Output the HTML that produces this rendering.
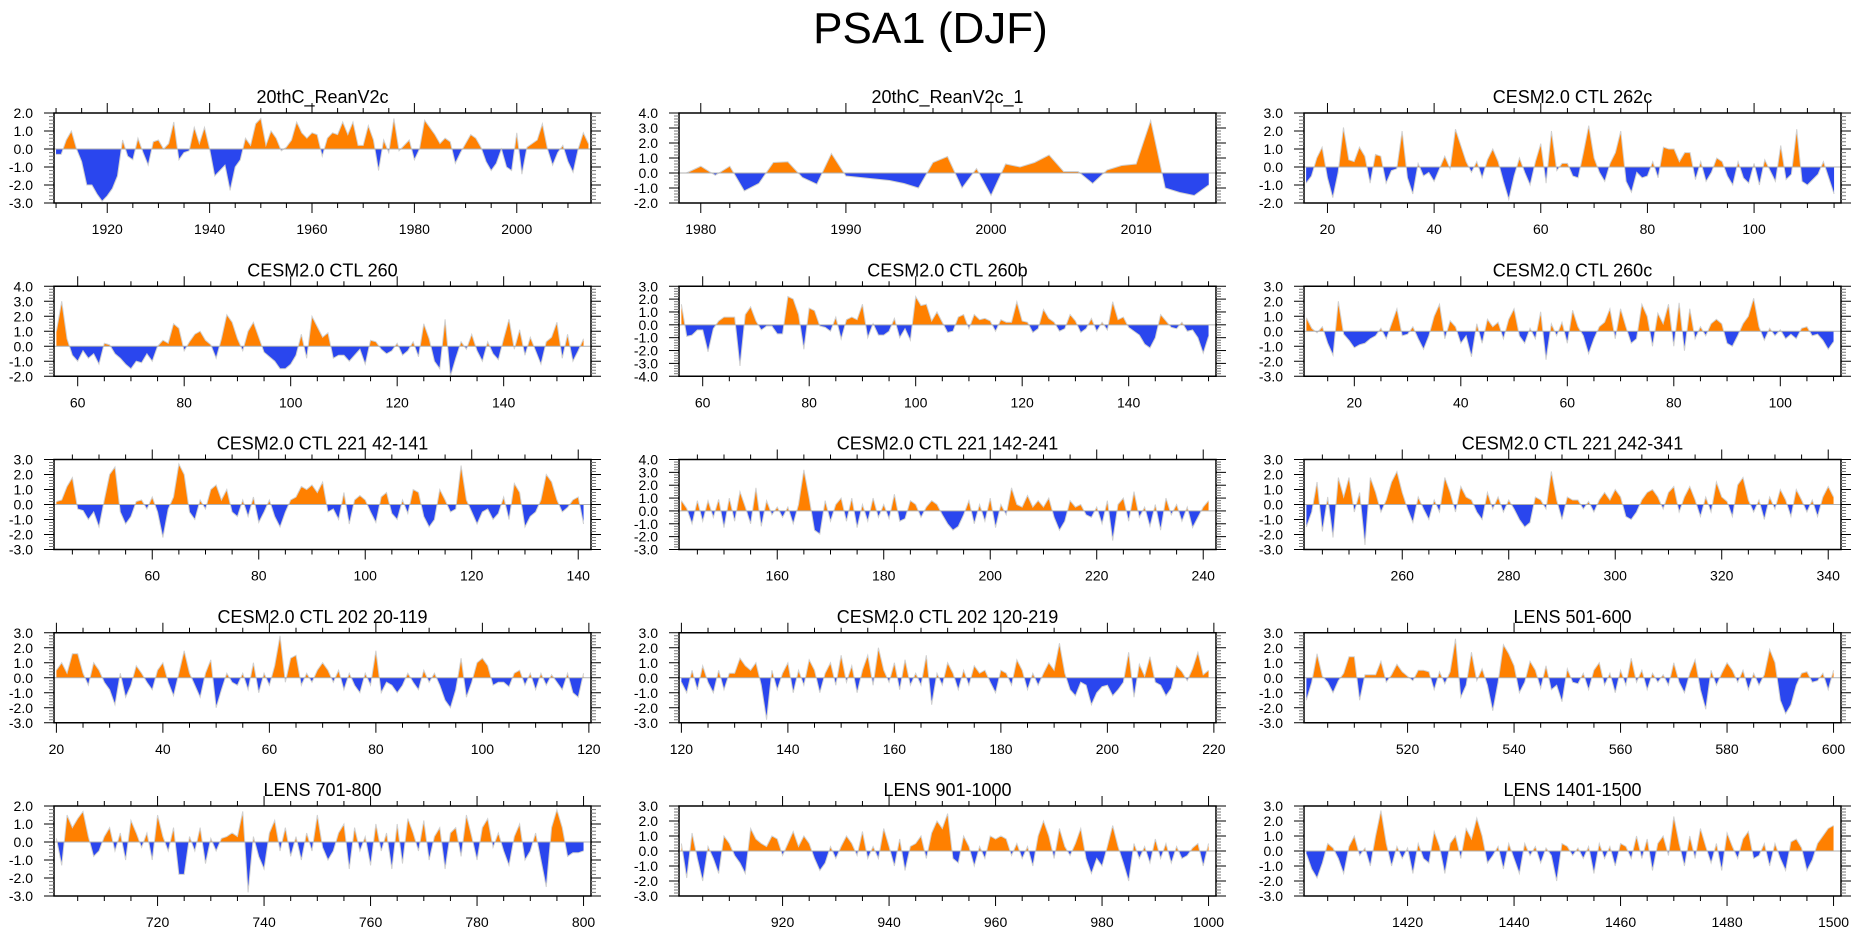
<!DOCTYPE html>
<html><head><meta charset="utf-8">
<style>
html,body{margin:0;padding:0;background:#fff;}
svg{display:block;font-family:"Liberation Sans",sans-serif;}
</style></head>
<body>
<svg id="fig" width="1861" height="936" viewBox="0 0 1861 936" xmlns="http://www.w3.org/2000/svg">
<text x="930.5" y="43" font-size="44" text-anchor="middle">PSA1 (DJF)</text>
</svg>
<script>
const titles = ["20thC_ReanV2c","20thC_ReanV2c_1","CESM2.0 CTL 262c","CESM2.0 CTL 260","CESM2.0 CTL 260b","CESM2.0 CTL 260c","CESM2.0 CTL 221 42-141","CESM2.0 CTL 221 142-241","CESM2.0 CTL 221 242-341","CESM2.0 CTL 202 20-119","CESM2.0 CTL 202 120-219","LENS 501-600","LENS 701-800","LENS 901-1000","LENS 1401-1500"];
const startYears = [1910,1979,16,56,56,11,42,142,242,20,120,501,701,901,1401];
const yMins = [-3,-2,-2,-2,-4,-3,-3,-3,-3,-3,-3,-3,-3,-3,-3];
const yMaxs = [2,4,3,4,3,3,3,4,3,3,3,3,2,3,3];
const xMins = [1909.6,1978.5,15.6,55.55,55.55,10.55,41.55,141.55,241.55,19.55,119.55,500.55,700.55,900.55,1400.55];
const xMaxs = [2014.5,2015.5,116.3,156.4,156.4,111.4,142.4,242.4,342.4,120.4,220.4,601.4,801.4,1001.4,1501.4];
const majorSteps = [20,10,20,20,20,20,20,20,20,20,20,20,20,20,20];
const minorSteps = [5,2,5,5,5,5,5,5,5,5,5,5,5,5,5];

const vals1 = [-0.3,-0.3,0.5,1.0,0.0,-0.7,-2.0,-2.0,-2.5,-2.9,-2.6,-2.2,-1.5,0.5,-0.4,-0.6,0.6,-0.2,-0.9,0.4,0.5,0.0,0.3,1.5,-0.6,-0.2,-0.1,1.2,0.3,1.2,0.0,-1.5,-1.2,-0.9,-2.3,-1.0,-0.6,0.6,0.2,1.4,1.7,0.2,1.0,0.6,-0.1,0.1,0.5,1.5,0.9,0.6,0.9,0.8,-0.4,0.6,0.9,0.8,1.5,0.8,1.5,0.2,0.2,1.3,0.5,-1.2,0.5,-0.2,1.7,-0.1,0.2,0.5,-0.6,0.0,1.6,1.2,0.8,0.3,0.6,0.4,-0.8,-0.2,0.3,0.8,0.6,0.1,-0.7,-1.2,-0.8,0.0,-1.0,-1.2,0.9,-1.4,0.1,0.3,0.5,1.4,0.0,-0.9,-0.2,0.2,-0.7,-1.3,0.0,0.9,0.3];
const vals2 = [0.0,0.45,-0.15,0.45,-1.2,-0.7,0.7,0.75,-0.3,-0.75,1.3,-0.2,-0.3,-0.4,-0.5,-0.7,-1.0,0.7,1.1,-1.0,0.3,-1.5,0.6,0.4,0.7,1.2,0.1,0.1,-0.7,0.2,0.5,0.6,3.5,-1.0,-1.3,-1.5,-0.8];
const vals3 = [-0.9,-0.5,0.5,1.1,-0.6,-1.7,-0.3,2.2,0.4,0.3,1.1,0.6,-0.9,0.7,0.6,-0.9,-0.2,-0.1,2.0,-0.6,-1.5,0.2,-0.5,-0.3,-0.8,-0.1,0.6,-0.1,2.1,1.2,0.3,-0.3,0.3,-0.6,0.4,1.0,0.3,-0.8,-1.8,-0.5,0.5,-0.3,-1.0,0.3,1.3,-0.9,2.0,-0.2,0.2,0.2,-0.5,-0.6,0.8,2.3,0.5,-0.3,-0.8,0.2,0.8,2.0,-0.8,-1.4,-0.3,-0.6,-0.5,0.3,-0.6,1.1,1.0,1.0,0.3,0.8,0.8,-0.7,0.3,-0.8,-0.3,0.5,0.3,-0.5,-1.0,0.3,-0.6,-0.9,0.2,-1.0,0.4,-0.2,-0.8,1.2,-0.7,-0.4,2.1,-0.8,-1.0,-0.7,-0.4,0.3,-0.6,-1.5];
const vals4 = [1.0,3.0,0.5,-0.6,-1.0,-0.3,-0.8,-0.5,-1.2,0.2,0.1,-0.5,-0.8,-1.2,-1.5,-1.0,-1.1,-0.5,-1.0,0.0,0.4,0.2,1.5,1.2,-0.3,0.3,0.8,1.0,0.4,0.1,-0.8,0.5,2.1,1.6,0.5,-0.3,1.0,1.6,0.6,-0.4,-0.7,-1.0,-1.5,-1.5,-1.2,-0.6,0.8,-0.8,2.0,1.3,0.6,0.9,-0.8,-0.6,-0.6,-1.0,-0.6,-0.2,-1.2,0.4,0.3,-0.2,-0.5,-0.3,0.2,-0.6,-0.3,0.3,-0.7,1.5,0.5,-1.0,-1.5,1.8,-2.0,-0.8,0.3,-0.2,0.8,-0.3,-1.0,0.3,-0.5,-0.9,0.5,1.8,-0.2,1.1,-0.6,0.6,-0.3,-1.2,0.3,0.6,1.6,-0.8,0.8,-1.0,-0.3,0.5];
const vals5 = [1.6,-0.9,-0.8,-0.4,-0.4,-2.1,-0.3,0.3,0.6,0.6,0.6,-3.2,0.8,1.4,0.3,-0.4,-0.1,-0.1,-0.7,-0.7,2.2,2.0,0.8,-1.9,1.3,1.1,-0.1,-0.2,-0.5,0.6,-1.1,0.4,0.6,0.4,1.6,-1.0,0.1,-0.8,-0.8,-0.5,0.5,-1.0,-0.3,-1.2,2.2,1.5,1.6,0.3,1.0,0.2,-0.6,-0.5,0.6,0.8,-0.3,0.8,0.4,0.5,0.3,-0.5,0.4,0.2,0.2,1.8,0.3,0.2,-0.6,-0.3,1.2,0.5,0.2,-0.5,-0.3,0.8,0.3,-0.6,-0.3,0.5,-0.5,0.2,-0.4,1.8,0.4,0.6,-0.2,-0.5,-0.8,-1.5,-1.8,-1.0,0.8,0.3,-0.2,-0.3,0.2,-0.5,-0.4,-1.0,-2.2,-0.9];
const vals6 = [0.9,0.2,-0.1,0.3,-0.8,-1.6,2.0,-0.2,-0.6,-1.1,-0.9,-0.8,-0.5,-0.3,0.2,-0.5,0.5,1.5,-0.3,-0.2,0.3,-0.5,-1.2,-0.3,1.0,1.8,-0.5,0.7,0.3,-0.8,-0.3,-1.7,0.5,-0.8,0.8,0.3,0.6,-0.5,0.8,1.5,-0.3,-0.8,0.2,-0.5,1.3,-1.9,0.5,-0.3,0.6,-0.8,1.4,0.3,-0.3,-1.5,-0.5,0.3,0.6,1.5,-0.5,1.5,0.3,-0.8,-0.5,1.8,1.0,-1.0,1.2,0.5,1.8,-1.0,1.9,-1.3,1.5,-0.5,0.3,-0.3,0.5,0.8,0.5,-0.8,-1.0,-0.3,0.5,1.0,2.2,0.3,-0.6,0.2,-0.3,0.1,-0.5,-0.2,-0.5,0.2,0.3,-0.3,-0.2,-0.6,-1.2,-0.7];
const vals7 = [0.2,0.3,1.2,1.8,-0.3,-0.4,-1.0,-0.5,-1.5,0.3,2.0,2.5,-0.5,-1.3,-0.8,0.2,0.3,-0.3,0.5,-0.5,-2.2,-0.3,0.5,2.7,2.0,-0.5,-1.0,0.3,-0.3,1.0,1.3,0.3,1.0,-0.5,-0.8,0.3,-0.8,0.5,-1.2,-0.5,0.3,-0.8,-1.5,-0.5,0.3,0.5,1.2,1.0,1.3,0.8,1.5,-0.5,-0.3,-1.0,0.8,-1.3,0.3,0.6,0.3,-0.5,-1.2,0.5,0.8,-0.6,-1.0,0.3,-0.6,1.0,0.8,-0.8,-1.5,-1.0,1.0,0.3,-0.5,-0.3,2.6,0.3,-0.5,-1.3,-0.5,-0.3,-1.0,-0.6,0.5,-1.0,1.4,0.8,-1.5,-0.8,-0.5,0.3,2.0,1.5,0.3,-0.5,-0.2,0.3,0.5,-1.3];
const vals8 = [0.8,0.2,-1.0,0.8,-0.8,0.8,-0.5,0.9,-1.3,1.0,-0.8,1.5,0.3,-1.0,1.8,-1.2,0.8,-0.3,0.3,-0.5,0.3,-1.0,0.5,3.2,1.0,-1.5,-1.8,0.8,-0.8,0.5,1.0,-0.8,1.0,-1.3,0.5,-0.8,1.0,-0.5,0.5,-0.6,1.3,-0.8,-0.6,0.8,0.5,-0.5,0.3,0.8,0.5,-0.3,-1.0,-1.5,-1.2,-0.3,0.8,-1.0,0.5,-0.8,1.0,-1.3,0.5,-0.3,1.8,0.5,0.3,1.2,0.3,0.8,0.3,1.0,-0.5,-1.5,-0.8,0.8,0.3,0.5,-0.3,-0.5,0.3,-1.0,0.8,-2.3,0.5,1.0,-0.8,1.5,-0.5,0.3,-1.2,0.5,-1.5,1.0,-0.3,0.5,-0.8,0.3,-1.3,-0.5,0.3,0.8];
const vals9 = [-1.5,-0.5,1.5,-1.8,0.5,-2.2,1.8,0.5,1.8,-0.5,0.8,-2.7,1.8,0.8,-0.5,0.3,1.5,2.2,0.8,-0.3,-1.2,0.5,-0.3,-1.0,0.3,-0.5,1.8,0.8,-0.5,1.2,0.5,0.3,-0.5,-1.0,0.8,-0.3,0.5,-0.5,0.3,-0.3,-1.0,-1.5,-1.2,0.5,0.3,-0.3,2.2,0.3,-1.0,0.5,0.3,0.3,-0.3,0.2,-0.5,0.3,0.8,0.3,1.0,0.5,-0.8,-1.0,-0.5,0.3,0.8,1.0,0.5,-0.3,0.8,1.2,-0.5,0.5,1.2,0.3,-0.8,0.5,-0.5,1.5,0.5,0.2,-0.8,1.3,1.8,0.3,-0.5,0.3,-1.0,0.5,-0.3,1.0,0.3,-0.8,1.0,0.3,-0.5,0.3,-0.8,0.5,1.2,0.5];
const vals10 = [0.5,1.0,0.3,1.6,1.6,0.3,-0.5,1.0,0.5,-0.3,-0.8,-1.8,0.3,-1.3,-0.5,0.8,0.3,-0.3,-0.8,0.5,1.0,-0.3,-1.2,0.3,1.8,0.3,-0.5,-1.3,0.3,1.2,-2.0,-0.8,0.3,-0.3,-0.5,0.3,-0.8,1.0,-1.0,0.3,-0.5,0.8,2.8,-0.3,1.3,1.5,-0.5,0.3,-0.3,0.5,1.0,0.5,-0.3,0.5,-0.8,0.3,-0.5,-1.0,0.3,-0.5,1.8,-1.0,-0.3,-0.5,-1.0,-0.5,0.3,-0.3,-0.8,0.5,-0.3,0.3,-0.5,-1.5,-2.0,-0.8,1.3,-1.3,-0.3,1.0,1.3,0.8,-0.5,-0.3,-0.3,-0.6,0.3,0.5,-0.5,0.3,-0.8,0.3,-0.5,0.2,-0.3,-0.8,0.3,-1.0,-1.3,0.3];
const vals11 = [-0.3,-1.0,0.5,-0.8,0.8,-0.3,-1.0,0.5,-0.8,0.3,0.3,1.3,0.8,0.5,1.0,-0.5,-2.8,0.5,-0.8,0.3,1.0,-1.0,0.5,-0.5,1.2,0.5,-1.0,0.3,1.0,-0.5,1.5,-0.3,0.8,-1.0,0.5,1.5,-0.5,2.0,0.5,-0.3,1.0,-0.8,1.2,-0.5,0.3,-0.5,1.5,-1.8,0.3,-0.5,1.0,0.3,-0.8,0.5,-0.5,0.8,0.3,0.5,-0.3,-1.0,0.5,0.3,-0.5,1.2,0.5,-0.8,0.3,-0.5,0.3,1.0,0.5,2.3,0.3,-0.8,-1.2,-0.3,-0.5,-1.8,-1.0,-0.6,-0.5,-1.2,-0.8,-0.3,1.7,-1.3,0.9,0.1,1.4,-0.3,-0.5,-1.2,-0.7,0.8,0.4,-0.2,0.6,1.7,0.2,0.5];
const vals12 = [-1.5,-0.3,1.6,0.1,-0.3,-1.0,-0.2,0.3,1.4,1.4,-1.5,0.2,0.2,0.2,1.1,-0.3,0.2,0.9,0.4,0.1,-0.2,0.5,0.5,0.4,-0.8,0.4,-0.4,0.4,2.6,-1.3,-0.5,1.7,-0.2,0.6,-0.5,-2.2,-0.3,2.2,1.6,0.8,-1.0,-0.3,1.1,0.5,-0.7,0.8,-0.8,-0.5,-1.6,0.6,-0.3,-0.4,0.3,-0.8,0.5,1.0,-0.5,0.3,-1.0,0.5,-0.5,1.3,-0.3,0.5,-0.8,0.3,-0.3,0.2,-0.5,1.0,-0.3,-1.0,0.3,1.2,-0.8,-2.1,0.5,-0.5,0.3,1.0,0.5,-0.3,0.5,-0.8,0.3,-0.5,0.2,1.9,1.0,-1.5,-2.4,-1.8,-0.5,0.3,0.4,-0.3,-0.2,0.3,-0.8,0.5];
const vals13 = [0.2,-1.3,1.5,0.8,1.3,1.7,0.3,-0.8,-0.5,0.3,0.8,-0.5,0.5,-1.0,1.2,0.5,-0.3,0.5,-1.0,1.5,0.3,-0.5,0.8,-1.8,-1.8,0.3,-0.5,0.8,-1.2,0.2,-0.5,0.2,0.3,0.5,0.3,1.7,-2.8,0.3,-0.8,-1.5,0.5,1.2,-0.5,0.8,-0.8,0.3,-1.0,0.5,-0.5,1.5,-0.3,-1.0,-0.5,0.5,1.0,-1.5,0.8,-0.5,0.3,-1.3,1.0,-0.5,0.5,-1.5,1.0,-1.2,1.3,0.5,-0.5,1.2,-1.0,0.3,0.8,-1.5,0.5,0.8,-0.8,1.5,0.3,-1.0,0.8,1.3,-0.3,0.5,-0.5,-1.3,0.3,1.0,-1.0,-0.5,0.5,-1.0,-2.5,0.8,1.8,0.8,-0.8,-0.6,-0.6,-0.5];
const vals14 = [0.5,-1.8,1.2,-0.5,-2.0,0.3,-0.5,-1.5,1.0,0.5,-0.3,-0.8,-1.5,1.5,0.8,0.5,0.3,1.0,0.8,-0.3,0.5,1.3,0.3,1.0,0.5,-0.5,-1.3,-0.8,0.3,-0.5,0.3,1.0,0.5,-0.3,1.3,-0.5,0.3,-0.5,1.5,0.3,-1.0,0.8,-1.3,0.3,0.5,1.0,-0.5,1.2,2.0,1.5,2.5,-0.5,-0.8,1.0,0.3,-1.0,0.3,-0.5,1.0,0.8,1.0,0.8,-0.3,0.5,-0.5,0.3,-1.0,1.0,2.0,1.0,-0.5,1.5,0.3,-0.3,0.5,1.5,-0.5,-1.5,-0.5,-1.0,0.3,1.7,0.3,-0.8,-2.0,0.5,-0.5,0.3,-0.8,0.8,-0.5,0.5,-0.8,0.3,-0.5,-0.3,0.2,0.5,-1.0,0.5];
const vals15 = [-0.2,-1.2,-1.8,-0.8,0.5,0.2,-0.5,-1.5,0.3,1.0,-0.3,0.2,-1.0,1.0,2.7,0.5,-1.0,0.3,-0.5,0.2,-1.5,0.5,-0.5,-0.8,1.3,0.3,-1.5,0.5,1.0,-0.5,1.5,0.8,2.2,1.0,-0.8,-0.3,0.3,-1.2,0.5,-0.5,-1.5,0.5,-0.3,0.3,-0.8,0.2,-0.3,-2.0,0.5,0.3,-0.3,0.2,-0.5,0.3,-1.5,0.5,-0.5,0.3,-1.0,0.5,0.3,-0.5,1.0,-0.5,0.8,-1.3,0.5,1.0,-0.3,2.3,0.5,-1.0,1.0,-0.5,1.5,0.3,-0.8,0.5,-1.3,1.2,0.3,-0.5,0.8,1.3,-0.5,-0.3,0.5,-1.0,0.5,-0.5,-1.3,0.6,0.8,0.2,-1.3,-0.6,0.5,1.0,1.5,1.7];
const allVals = [vals1,vals2,vals3,vals4,vals5,vals6,vals7,vals8,vals9,vals10,vals11,vals12,vals13,vals14,vals15];

const NS = "http://www.w3.org/2000/svg";
const svg = document.getElementById('fig');
const colLeft = [54,679,1304], colW = 537, rowTop0 = 113, rowGap = 173.25, panelH = 90;
function mk(tag, attrs, parent){ const e=document.createElementNS(NS,tag); for(const k in attrs) e.setAttribute(k,attrs[k]); parent.appendChild(e); return e; }
function fmt(v){ return (v<0?"-":"")+Math.abs(v).toFixed(1); }

for(let p=0;p<15;p++){
  const L = colLeft[p%3], T = rowTop0 + Math.floor(p/3)*rowGap, R = L+colW, B = T+panelH;
  const xs = v => L + (v - xMins[p])/(xMaxs[p]-xMins[p])*colW;
  const ys = v => B - (v - yMins[p])/(yMaxs[p]-yMins[p])*panelH;
  const g = mk('g',{},svg);
  
  
  const t = mk('text',{x:(L+R)/2,y:T-10,'font-size':18,'text-anchor':'middle'},g);
  t.textContent = titles[p];
  
  
  // series
  const vals = allVals[p], y0 = ys(0);
  const pts = vals.map((v,i)=>[xs(startYears[p]+i), ys(v)]);
  const ptsStr = pts.map(q=>q[0].toFixed(2)+","+q[1].toFixed(2)).join(" ");
  const poly = ptsStr + " " + pts[pts.length-1][0].toFixed(2)+","+y0+" "+pts[0][0].toFixed(2)+","+y0;
  const cidA='ca'+p, cidB='cb'+p;
  const defs = mk('defs',{},g);
  const ca = mk('clipPath',{id:cidA},defs); mk('rect',{x:L,y:T,width:colW,height:y0-T},ca);
  const cb = mk('clipPath',{id:cidB},defs); mk('rect',{x:L,y:y0,width:colW,height:B-y0},cb);
  const pa = mk('polygon',{points:poly,fill:'#ff8000','clip-path':'url(#'+cidA+')'},g);
  
  
  const pb = mk('polygon',{points:poly,fill:'#2a46ee','clip-path':'url(#'+cidB+')'},g);
  
  
  const ln = mk('polyline',{points:ptsStr,fill:'none',stroke:'#d0d0d0','stroke-width':1},g);
  
  
  const zl = mk('line',{x1:L,x2:R,y1:y0,y2:y0,stroke:'#b0b0b0','stroke-width':1},g);
  
  
  // frame
  const fr = mk('rect',{x:L,y:T,width:colW,height:panelH,fill:'none',stroke:'#000','stroke-width':1.5},g);
  
  
  // y ticks
  for(let k=Math.round(yMins[p]*5); k<=Math.round(yMaxs[p]*5); k++){
    const v=k/5, y=ys(v), major=(k%5===0), len=major?10:5;
    mk('line',{x1:L-len,x2:L,y1:y,y2:y,stroke:major?'#000':'#777','stroke-width':1},g);
    mk('line',{x1:R,x2:R+len,y1:y,y2:y,stroke:major?'#000':'#777','stroke-width':1},g);
    if(major){
      const tl = mk('text',{x:L-21,y:y+5,'font-size':14,'text-anchor':'end'},g);
      tl.textContent = fmt(v);
      
      
    }
  }
  // x ticks
  const ms = minorSteps[p], Ms = majorSteps[p];
  for(let v=Math.ceil(xMins[p]/ms)*ms; v<=xMaxs[p]; v+=ms){
    const x=xs(v), major=(v%Ms===0), len=major?10:5;
    mk('line',{x1:x,x2:x,y1:B,y2:B+len,stroke:'#000','stroke-width':1},g);
    mk('line',{x1:x,x2:x,y1:T-len,y2:T,stroke:'#000','stroke-width':1},g);
    if(major){
      const tl = mk('text',{x:x,y:B+31,'font-size':14,'text-anchor':'middle'},g);
      tl.textContent = String(v);
      
      
    }
  }
}
</script>
</body></html>
